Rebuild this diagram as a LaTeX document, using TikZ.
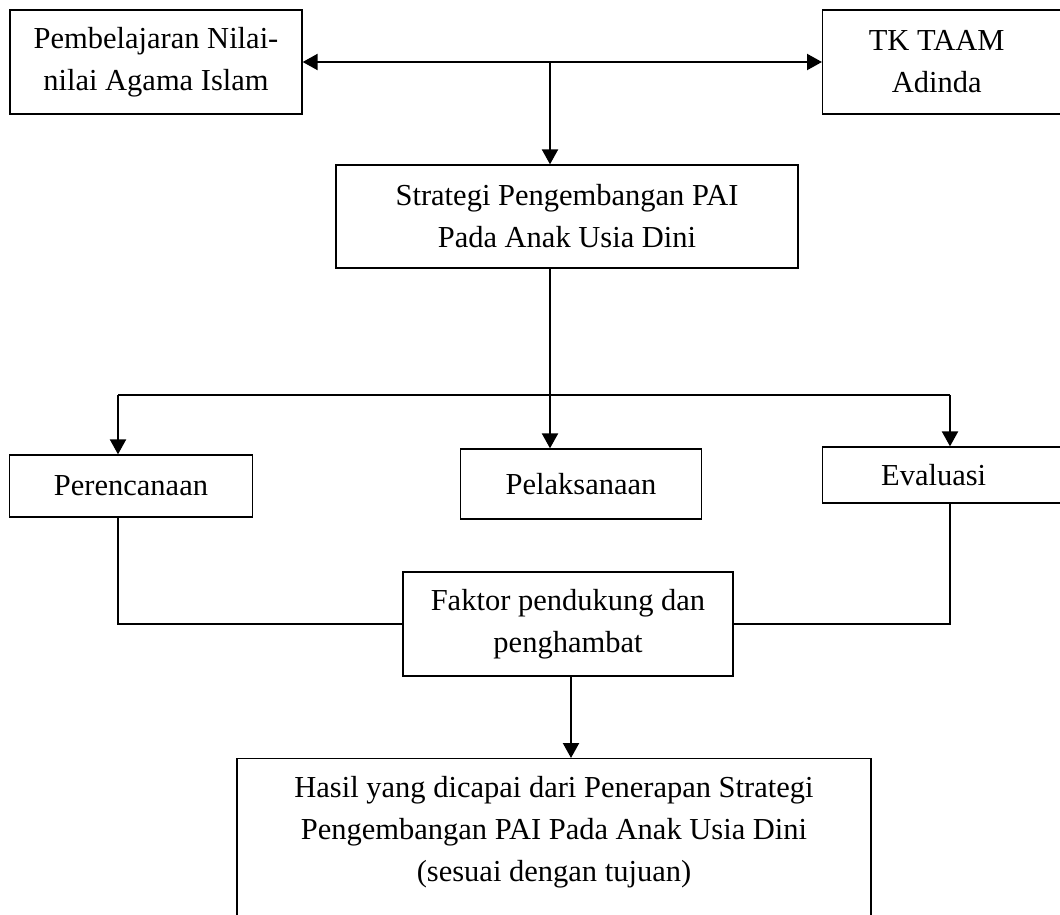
\documentclass[tikz,border=0pt]{standalone}
\usepackage{fontspec}
\setmainfont{Liberation Serif}
\usetikzlibrary{arrows.meta}
\begin{document}
\begin{tikzpicture}[x=1pt,y=-1pt,
  box/.style={draw,line width=1.3pt,inner sep=0pt,align=center,font=\fontsize{30.5}{42}\selectfont},
  conn/.style={line width=1.3pt},
  arr/.style={line width=2.2pt,-{Triangle[width=16pt,length=15pt]}},
  darr/.style={line width=2.2pt,{Triangle[width=16pt,length=15pt]}-{Triangle[width=16pt,length=15pt]}}]
\useasboundingbox (0,0) rectangle (1060,915);
\node[box,minimum width=292pt,minimum height=104pt] (A) at (156,62) {\raisebox{-4pt}{\parbox{280pt}{\centering Pembelajaran Nilai-\\nilai Agama Islam}}};
\node[box,minimum height=104pt,anchor=west] (TK) at (822,62) {\raisebox{-4pt}{\parbox{228pt}{\centering TK TAAM\\Adinda}}\hspace{40pt}};
\node[box,minimum width=462pt,minimum height=103pt] (S) at (567,216.5) {Strategi Pengembangan PAI\\Pada Anak Usia Dini};
\node[box,minimum width=243pt,minimum height=62pt] (P1) at (131,486) {Perencanaan};
\node[box,minimum width=241pt,minimum height=70pt] (P2) at (581,484) {Pelaksanaan};
\node[box,minimum height=56pt,anchor=west] (P3) at (822,475) {\parbox{222pt}{\centering Evaluasi}\hspace{40pt}};
\node[box,minimum width=330pt,minimum height=104pt] (F) at (568,624) {Faktor pendukung dan\\penghambat};
\node[box,anchor=north,inner sep=0pt] (H) at (554,758) {\parbox[t][200pt][t]{634pt}{\centering\vspace{18pt}Hasil yang dicapai dari Penerapan Strategi\\Pengembangan PAI Pada Anak Usia Dini\\(sesuai dengan tujuan)}};
\coordinate (J1) at (550,62);
\coordinate (J2) at (550,395);
\coordinate (L) at (118,395);
\coordinate (R) at (950,395);
\coordinate (K) at (571,0);
\draw[darr] (A.east) -- (TK.west);
\draw[arr] (J1) -- (J1 |- S.north);
\draw[arr] (S.south -| J2) -- (P2.north -| J2);
\draw[conn] (L) -- (R);
\draw[arr] (L) -- (L |- P1.north);
\draw[arr] (R) -- (R |- P3.north);
\draw[conn] (P1.south -| L) |- (F.west);
\draw[conn] (P3.south -| R) |- (F.east);
\draw[arr] (F.south -| K) -- (H.north -| K);
\end{tikzpicture}
\end{document}
